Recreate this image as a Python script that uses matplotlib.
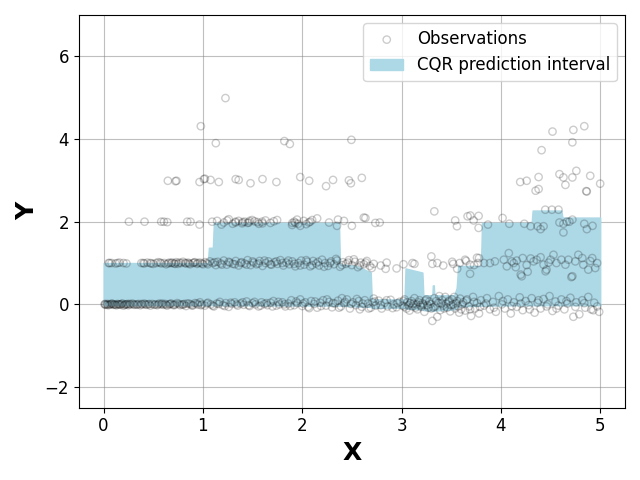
import numpy as np
import matplotlib
matplotlib.use("Agg")
import matplotlib.pyplot as plt

# ---- observations, grouped by level ----
obs_level0 = [
    (0.01,0.00),(0.02,-0.01),(0.04,0.01),(0.05,-0.02),(0.07,0.00),(0.08,0.02),(0.10,-0.01),(0.11,0.00),
    (0.13,-0.02),(0.14,0.01),(0.16,0.00),(0.17,-0.01),(0.19,0.02),(0.20,-0.03),(0.22,0.00),(0.24,0.01),
    (0.25,-0.02),(0.27,0.00),(0.29,0.02),(0.31,-0.01),(0.33,0.00),(0.35,0.01),(0.37,-0.02),(0.39,0.00),
    (0.41,0.02),(0.43,-0.01),(0.45,0.00),(0.47,-0.03),(0.49,0.01),(0.52,0.00),(0.54,-0.02),(0.56,0.02),
    (0.58,0.00),(0.60,-0.01),(0.62,0.01),(0.64,-0.03),(0.66,0.00),(0.68,0.02),(0.70,-0.01),(0.72,0.00),
    (0.74,0.03),(0.77,-0.02),(0.79,0.00),(0.81,0.01),(0.83,-0.04),(0.86,0.02),(0.88,0.00),(0.90,-0.02),
    (0.92,0.03),(0.95,-0.01),(0.97,0.05),(0.99,0.00),
    (1.02,-0.03),(1.05,0.04),(1.08,0.00),(1.11,-0.05),(1.14,0.02),(1.17,0.06),(1.20,-0.02),(1.23,0.03),
    (1.26,-0.06),(1.29,0.01),(1.32,0.05),(1.35,-0.03),(1.38,0.02),(1.41,-0.01),(1.44,0.07),(1.47,-0.04),
    (1.50,0.03),(1.53,0.00),(1.56,-0.05),(1.59,0.05),(1.62,0.01),(1.65,-0.02),(1.68,0.04),(1.71,0.08),
    (1.74,-0.03),(1.77,0.00),(1.80,0.05),(1.83,-0.05),(1.86,0.02),(1.89,0.10),(1.92,-0.02),(1.95,0.03),
    (1.98,0.12),(2.00,-0.04),
    (2.03,0.05),(2.06,-0.06),(2.09,0.08),(2.12,0.01),(2.15,-0.08),(2.18,0.04),(2.21,0.10),(2.24,-0.03),
    (2.27,0.06),(2.30,-0.07),(2.33,0.02),(2.36,0.09),(2.39,-0.05),(2.42,0.03),(2.45,0.12),(2.48,-0.10),
    (2.51,0.05),(2.54,-0.02),(2.57,0.08),(2.60,-0.06),(2.63,0.10),(2.66,0.02),(2.69,-0.08),(2.71,0.05),
    (2.74,-0.03),(2.77,0.09),(2.80,-0.10),(2.83,0.04),(2.86,-0.05),(2.89,0.11),(2.92,0.00),(2.95,-0.07),
    (2.98,0.06),(2.72,0.14),(2.58,-0.12),(2.40,0.15),
    (3.01,-0.03),(3.03,0.12),(3.05,-0.10),(3.06,0.05),(3.08,-0.15),(3.10,0.08),(3.11,-0.05),(3.13,0.15),
    (3.15,0.00),(3.16,-0.12),(3.18,0.10),(3.20,-0.06),(3.21,0.03),(3.23,-0.18),(3.25,0.12),(3.26,-0.02),
    (3.28,0.07),(3.30,-0.10),(3.31,-0.40),(3.33,0.15),(3.34,-0.05),(3.36,-0.30),(3.37,0.04),(3.39,-0.14),
    (3.41,0.10),(3.42,-0.03),(3.44,0.18),(3.46,-0.08),(3.47,0.06),(3.49,-0.17),(3.51,0.12),(3.52,0.00),
    (3.54,-0.10),(3.56,0.08),(3.57,-0.05),(3.59,0.14),(3.60,-0.12),(3.03,-0.06),(3.12,0.02),(3.19,-0.02),
    (3.27,-0.08),(3.38,0.20),(3.45,0.02),(3.53,0.18),(3.58,-0.20),
    (3.62,0.05),(3.64,-0.15),(3.66,0.12),(3.68,-0.05),(3.70,-0.28),(3.72,0.18),(3.74,-0.10),(3.76,0.03),
    (3.78,-0.22),(3.80,0.10),(3.83,-0.03),(3.86,0.15),(3.89,-0.12),(3.92,0.06),(3.95,-0.18),(3.98,0.20),
    (4.01,0.00),(4.04,-0.10),(4.07,0.12),(4.10,-0.22),(4.13,0.05),(4.16,-0.06),(4.19,0.17),(4.22,-0.14),
    (4.25,0.08),(4.28,-0.02),(4.31,0.15),(4.34,-0.20),(4.37,0.04),(4.40,-0.10),(4.43,0.13),(4.46,-0.05),
    (4.49,0.20),(4.52,-0.16),(4.55,0.07),(4.58,-0.03),(4.61,0.12),(4.64,-0.12),(4.67,0.02),(4.70,0.16),
    (4.73,-0.30),(4.76,0.05),(4.79,-0.24),(4.82,0.10),(4.85,-0.08),(4.88,0.18),(4.91,-0.12),(4.94,0.04),
    (4.97,-0.05),(4.99,-0.18),
]

obs_level0_dense = [
    (0.015,0.01),(0.035,-0.01),(0.06,0.00),(0.09,0.01),(0.12,-0.01),(0.15,0.00),(0.18,0.01),(0.21,-0.01),
    (0.23,0.00),(0.26,0.01),(0.30,0.00),(0.34,-0.01),(0.38,0.01),(0.42,0.00),(0.46,0.01),(0.51,-0.01),
    (0.55,0.00),(0.59,0.02),(0.63,-0.01),(0.67,0.01),(0.71,-0.02),(0.76,0.01),(0.80,-0.01),(0.84,0.02),
    (0.89,-0.03),(0.94,0.02),(0.98,-0.02),
    (1.04,0.02),(1.10,-0.03),(1.16,0.01),(1.22,-0.04),(1.28,0.04),(1.34,0.00),(1.40,0.05),(1.46,-0.02),
    (1.52,0.06),(1.58,-0.03),(1.64,0.03),(1.70,-0.05),(1.76,0.06),(1.82,0.00),(1.88,-0.04),(1.94,0.07),
    (2.01,0.02),(2.07,-0.09),(2.13,0.07),(2.19,-0.04),(2.25,0.12),(2.31,0.03),(2.37,-0.08),(2.43,0.06),
    (2.49,0.01),(2.55,0.13),(2.61,0.02),(2.67,-0.10),(2.73,0.07),(2.79,-0.02),(2.85,0.10),(2.91,-0.09),
    (2.96,0.03),(3.02,0.08),(3.07,-0.02),(3.09,0.03),(3.14,-0.08),(3.17,0.05),(3.22,0.00),(3.24,0.09),
    (3.29,0.01),(3.32,-0.07),(3.35,0.08),(3.40,0.02),(3.43,-0.10),(3.48,0.09),(3.50,-0.02),(3.55,0.03),
    (3.61,0.00),(3.65,0.09),(3.69,-0.12),(3.73,0.06),(3.79,-0.06),(3.85,0.02),(3.93,-0.08),(4.02,0.08),
    (4.11,-0.04),(4.20,0.02),(4.29,-0.12),(4.38,0.10),(4.47,0.00),(4.56,-0.10),(4.66,0.08),(4.75,-0.06),
    (4.84,0.03),(4.93,-0.14),
]

obs_level1 = [
    (0.05,1.00),(0.08,1.00),(0.12,0.99),(0.16,1.01),(0.20,1.00),(0.23,0.99),
    (0.38,1.00),(0.41,0.99),(0.44,1.01),(0.47,1.00),(0.50,0.98),(0.53,1.00),(0.55,1.02),(0.58,0.99),
    (0.61,1.00),(0.63,0.97),(0.66,1.01),(0.68,1.00),(0.71,0.99),(0.73,1.02),(0.75,0.98),(0.78,1.00),
    (0.80,1.03),(0.83,0.99),(0.85,1.01),(0.87,0.97),(0.90,1.00),(0.92,1.02),(0.94,0.98),(0.97,1.01),
    (0.99,0.99),
    (1.02,1.02),(1.05,0.97),(1.07,1.04),(1.10,1.00),(1.13,0.95),(1.15,1.03),(1.18,0.99),(1.21,1.06),
    (1.24,0.96),(1.27,1.01),(1.30,0.98),(1.33,1.05),(1.36,0.94),(1.39,1.02),(1.42,0.99),(1.45,1.07),
    (1.48,0.95),(1.51,1.01),(1.54,0.97),(1.57,1.05),(1.60,0.93),(1.63,1.00),(1.66,1.04),(1.69,0.96),
    (1.72,1.02),(1.75,0.98),(1.78,1.07),(1.81,0.94),(1.84,1.01),(1.87,0.97),(1.90,1.04),(1.93,0.92),
    (1.96,1.00),(1.99,1.06),
    (2.02,0.96),(2.05,1.03),(2.08,0.92),(2.11,1.05),(2.14,0.99),(2.17,0.94),(2.20,1.08),(2.23,1.00),
    (2.26,0.93),(2.29,1.04),(2.32,0.97),(2.35,1.06),(2.38,0.91),(2.41,1.02),(2.44,0.98),(2.47,1.07),
    (2.50,0.95),(2.53,1.03),(2.56,0.90),(2.59,1.01),(2.62,0.97),(2.65,1.05),(2.68,0.93),
    (2.72,0.98),(2.79,0.94),(2.85,1.01),(2.84,0.86),(2.95,0.87),(3.02,0.97),(3.11,1.00),(3.13,0.98),
    (3.30,1.16),(3.31,0.98),(3.36,1.00),(3.42,0.94),(3.52,0.98),(3.56,0.86),(3.585,1.00),(3.65,1.05),
    (3.69,0.96),(3.76,1.13),(3.77,1.00),(3.51,1.03),(3.64,1.08),(3.69,0.74),(3.73,0.95),(3.78,1.12),
    (3.83,1.00),(3.89,1.00),(3.94,1.04),(4.03,1.08),(4.08,1.24),(4.11,1.04),(4.15,0.90),(4.16,1.06),
    (4.21,0.68),(4.22,1.12),(4.27,0.79),(4.30,1.11),(4.33,1.04),(4.36,1.08),(4.40,1.14),(4.43,0.96),
    (4.46,0.84),(4.50,1.08),(4.53,1.20),(4.56,1.00),(4.61,1.08),(4.65,0.96),(4.68,1.08),(4.71,0.66),
    (4.75,1.04),(4.78,1.20),(4.82,1.12),(4.83,0.96),(4.88,0.84),(4.92,1.12),(4.95,0.88),(4.97,1.00),
    (4.13,1.00),(4.26,0.95),(4.45,0.80),(4.48,1.01),(4.72,0.68),(4.20,0.72),(4.90,1.05),(4.06,0.92),
]

obs_level1_dense = [
    (0.06,1.00),(0.14,1.00),(0.40,1.00),(0.48,0.99),(0.57,1.01),(0.65,0.99),(0.69,1.01),(0.72,0.98),
    (0.76,1.01),(0.82,1.00),(0.86,0.99),(0.91,1.01),(0.95,1.00),(1.00,0.97),(1.04,1.00),(1.12,1.02),
    (1.19,0.96),(1.26,1.03),(1.32,0.97),(1.38,1.00),(1.44,0.96),(1.50,1.04),(1.56,0.99),(1.62,1.06),
    (1.68,0.97),(1.74,1.04),(1.80,1.00),(1.86,1.06),(1.92,0.98),(1.98,0.94),(2.04,1.07),(2.10,0.95),
    (2.16,1.03),(2.22,0.91),(2.28,1.00),(2.34,1.10),(2.40,0.95),(2.46,1.01),(2.52,1.09),(2.58,0.94),
    (2.64,1.01),(2.70,0.88),
]

obs_level2 = [
    (0.255,2.00),(0.412,2.00),(0.58,2.00),(0.607,2.00),(0.641,1.99),(0.842,2.00),(0.875,2.00),(0.966,1.93),
    (1.093,2.00),(1.143,2.02),(1.187,1.93),(1.244,2.03),(1.26,2.06),(1.328,1.98),(1.36,2.02),(1.395,1.96),
    (1.42,2.00),(1.462,1.98),(1.496,2.04),(1.563,1.95),(1.596,2.00),(1.63,2.03),(1.68,1.97),(1.714,2.01),
    (1.747,2.04),(1.898,1.92),(1.93,1.97),(1.948,2.05),(1.98,1.90),(2.015,2.02),(2.066,1.98),(2.10,2.04),
    (2.15,2.08),(2.27,1.98),(2.42,2.02),(2.50,1.90),(2.62,2.10),
    (1.30,1.95),(1.40,1.99),(1.45,1.97),(1.52,2.01),(1.60,1.96),(1.92,2.00),(1.96,1.95),(2.04,1.94),
    (2.36,2.05),(2.35,1.90),(1.21,1.98),(1.33,2.00),(1.47,2.02),(1.55,1.99),(1.90,1.97),(2.08,2.00),
    (2.636,2.09),(2.736,1.97),(2.78,1.98),(3.33,2.25),(3.54,2.03),(3.558,1.89),(3.665,2.13),(3.692,2.15),
    (3.776,2.14),(3.726,2.03),(3.776,1.85),(3.87,1.93),(4.017,2.09),(4.085,1.95),(4.236,1.95),(4.30,1.89),
    (4.37,1.89),(4.40,1.82),(4.43,1.89),(4.447,2.29),(4.514,2.29),(4.58,2.29),(4.59,1.98),(4.63,1.95),
    (4.665,2.00),(4.69,2.00),(4.72,2.05),(4.63,1.74),(4.84,1.95),(4.866,1.82),(4.923,1.90),
]

obs_high = [
    (0.647,2.99),(0.724,2.98),(0.734,2.99),(0.966,2.96),(1.01,3.03),(1.02,3.04),(1.077,3.01),(1.16,2.96),
    (1.33,3.03),(1.36,3.01),(1.479,2.93),(1.60,3.03),(1.74,2.96),(1.98,3.08),(2.07,2.99),(2.24,2.86),
    (2.31,3.01),(2.47,3.00),(2.49,2.93),(2.60,3.06),
    (0.979,4.31),(1.13,3.90),(1.227,4.99),(1.82,3.95),(1.875,3.88),(2.495,3.98),
    (4.84,4.31),(4.52,4.18),(4.73,4.22),(4.72,3.92),(4.41,3.73),(4.76,3.23),(4.59,3.15),(4.63,3.07),
    (4.38,3.08),(4.72,3.07),(4.90,3.11),(4.195,2.96),(4.26,2.99),(4.65,2.89),(5.00,2.92),(4.35,2.75),
    (4.38,2.79),(4.86,2.74),(4.865,2.73),
]

# ---- CQR prediction interval (breakpoints) ----
band_x     = [0.00, 1.05, 1.06, 1.10, 1.11, 2.37, 2.38, 2.55, 2.69, 2.70, 3.03, 3.04, 3.21, 3.22,
              3.31, 3.315, 3.325, 3.33, 3.53, 3.555, 3.57, 3.80, 3.81, 4.31, 4.32, 4.61, 4.62, 5.00]
band_upper = [1.00, 1.00, 1.37, 1.37, 1.97, 1.97, 0.97, 0.93, 0.77, 0.12, 0.12, 0.87, 0.77, 0.22,
              0.22, 0.46, 0.46, 0.22, 0.22, 0.40, 0.93, 0.93, 1.97, 1.97, 2.27, 2.27, 2.10, 2.10]
band_lower = [-0.02, -0.02, -0.02, -0.02, -0.02, -0.03, -0.03, -0.05, -0.06, -0.08, -0.08, -0.10, -0.12, -0.14,
              -0.15, -0.15, -0.15, -0.15, -0.12, -0.08, -0.05, -0.03, -0.03, -0.02, -0.02, -0.02, -0.02, -0.02]

obs = np.array(obs_level0 + obs_level0_dense + obs_level1 + obs_level1_dense + obs_level2 + obs_high)
x_obs, y_obs = obs[:, 0], obs[:, 1]

fig, ax = plt.subplots(figsize=(6.4, 4.8), dpi=100)
band = ax.fill_between(band_x, band_lower, band_upper, color="lightblue",
                       label="CQR prediction interval", zorder=1)
pts = ax.scatter(x_obs, y_obs, s=28, facecolors="none", edgecolors="black",
                 alpha=0.2, linewidths=1.0, label="Observations", zorder=2)

ax.set_xlim(-0.25, 5.25)
ax.set_ylim(-2.5, 7.0)
ax.set_xticks([0, 1, 2, 3, 4, 5])
ax.set_yticks([-2, 0, 2, 4, 6])
ax.tick_params(labelsize=12)
ax.grid(True, color="gray", alpha=0.5, linewidth=0.8)
ax.set_axisbelow(True)
ax.set_xlabel("X", fontsize=18, fontweight="bold")
ax.set_ylabel("Y", fontsize=18, fontweight="bold")
ax.legend(handles=[pts, band], loc="upper right", fontsize=12)
fig.tight_layout()
fig.savefig("out.png", dpi=100)
